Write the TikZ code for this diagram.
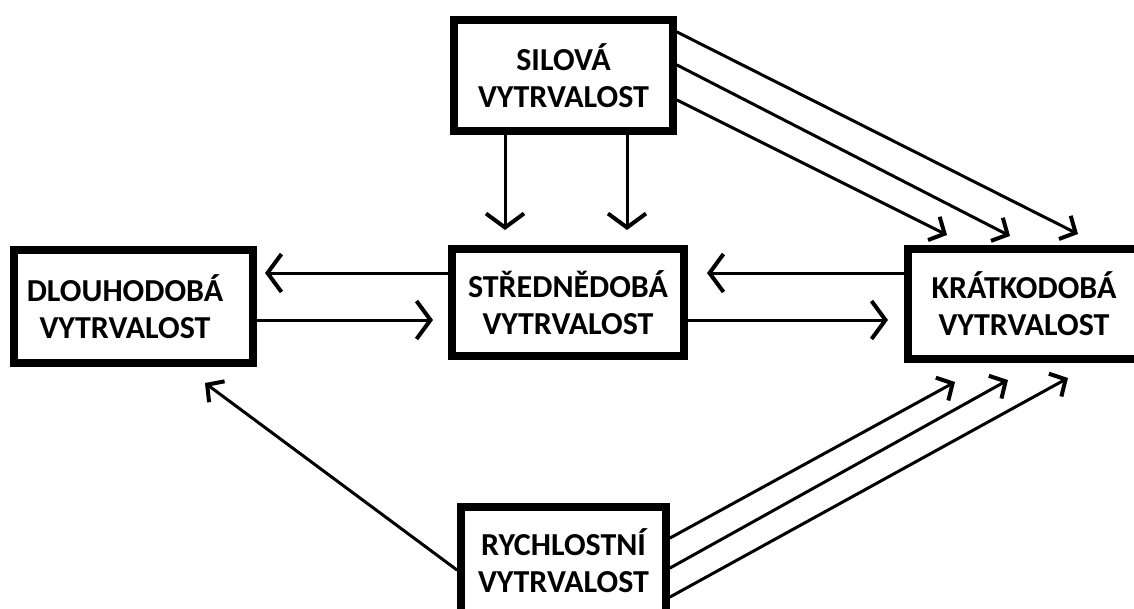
\documentclass[tikz,border=0pt]{standalone}
\usepackage{fontspec}
\setmainfont{Carlito}
\usetikzlibrary{arrows.meta,calc}
\begin{document}
\begin{tikzpicture}[x=1pt,y=-1pt,
  box/.style={draw,line width=8pt,align=center,inner sep=0pt,
    font=\fontsize{32}{37}\selectfont\bfseries},
  conn/.style={line width=3pt,line cap=round},
  bigtip/.style={-{Straight Barb[length=14pt,width=38pt,line width=4pt]}},
  smalltip/.style={-{Straight Barb[length=12pt,width=26pt,line width=4pt]}}]
\useasboundingbox (0,0) rectangle (1134,608);
\clip (0,0) rectangle (1134,608);
\fill[white] (0,0) rectangle (1134,608);

\node[box,minimum width=219pt,minimum height=111pt] (silova) at (563.5,75.5) {SILOVÁ\\VYTRVALOST};
\node[box,minimum width=239pt,minimum height=113pt] (dlouho) at (133.5,306.5) {\hspace*{-17pt}DLOUHODOBÁ\\\hspace*{-17pt}VYTRVALOST};
\node[box,minimum width=232pt,minimum height=107pt] (stredne) at (568,302.5) {STŘEDNĚDOBÁ\\VYTRVALOST};
\node[box,minimum width=232pt,minimum height=110pt] (kratko) at (1024,304) {KRÁTKODOBÁ\\VYTRVALOST};
\node[box,minimum width=205pt,minimum height=108pt] (rychl) at (563.5,561) {RYCHLOSTNÍ\\VYTRVALOST};

% row levels
\coordinate (rA) at (0,273);
\coordinate (rB) at (0,320);

% horizontal arrows
\draw[conn,bigtip,shorten >=8pt] (stredne.west |- rA) -- (dlouho.east |- rA);
\draw[conn,bigtip,shorten >=15pt] (dlouho.east |- rB) -- (stredne.west |- rB);
\draw[conn,bigtip,shorten >=16pt] (stredne.east |- rB) -- (kratko.west |- rB);
\draw[conn,bigtip,shorten >=19pt] (kratko.west |- rA) -- (stredne.east |- rA);

% vertical arrows from silova
\coordinate (v1) at (505,230);
\coordinate (v2) at (627,230);
\draw[conn,bigtip] (silova.south -| v1) -- (v1);
\draw[conn,bigtip] (silova.south -| v2) -- (v2);

% silova to kratko
\coordinate (s1) at (0,32);
\coordinate (s2) at (0,65);
\coordinate (s3) at (0,100);
\coordinate (t1) at (1078,234);
\coordinate (t2) at (1010,236);
\coordinate (t3) at (947,235);
\draw[conn,smalltip] (silova.east |- s1) -- (t1);
\draw[conn,smalltip] (silova.east |- s2) -- (t2);
\draw[conn,smalltip] (silova.east |- s3) -- (t3);

% rychl to kratko
\coordinate (q1) at (0,538);
\coordinate (q2) at (0,568);
\coordinate (q3) at (0,597);
\coordinate (u1) at (955,382);
\coordinate (u2) at (1008,380);
\coordinate (u3) at (1068,378);
\draw[conn,smalltip] (rychl.east |- q1) -- (u1);
\draw[conn,smalltip] (rychl.east |- q2) -- (u2);
\draw[conn,smalltip] (rychl.east |- q3) -- (u3);

% rychl to dlouho
\coordinate (q4) at (0,570);
\coordinate (w1) at (205,383);
\draw[conn,smalltip] (rychl.west |- q4) -- (w1);
\end{tikzpicture}
\end{document}
